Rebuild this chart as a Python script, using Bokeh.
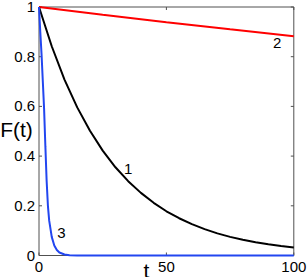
from bokeh.plotting import figure
from bokeh.models import Range1d
from bokeh.core.properties import value
from bokeh.embed import file_html
from bokeh.resources import INLINE

# Curve 1 (black)
t1 = [0, 5, 10, 15, 20, 25, 30, 35, 40, 45, 50, 55, 60, 65, 70, 75, 80, 85, 90, 95, 100]
f1 = [1.0, 0.842, 0.708, 0.596, 0.502, 0.422, 0.355, 0.299, 0.252, 0.212, 0.178,
      0.150, 0.126, 0.106, 0.089, 0.075, 0.063, 0.053, 0.045, 0.038, 0.032]
# Curve 2 (red)
t2 = [0, 25, 50, 75, 100]
f2 = [1.0, 0.969, 0.939, 0.910, 0.882]
# Curve 3 (blue)
t3 = [0, 0.5, 1, 1.5, 2, 2.5, 3, 3.5, 4, 5, 6, 7, 8, 10, 12, 15, 20, 30, 50, 100]
f3 = [1.0, 0.9, 0.81, 0.70, 0.59, 0.44, 0.30, 0.20, 0.14, 0.075, 0.04, 0.022,
      0.012, 0.004, 0.001, 0.0, 0.0, 0.0, 0.0, 0.0]

x_ticks = [0, 50, 100]
x_tick_labels = ["0", "50", "100"]
y_ticks = [0, 0.2, 0.4, 0.6, 0.8, 1]
y_tick_labels = ["0", "0.2", "0.4", "0.6", "0.8", "1"]
curve_labels = ["1", "2", "3"]
label_t = [35, 93.5, 8.8]
label_f = [0.35, 0.855, 0.09]
x_title = "t"
y_title = "F(t)"

# ---- layout (pixels) ----
W, H = 307, 277
LEFT_PX, RIGHT_PX = 38.5, 293.3     # where t=0 and t=100 fall
TOP_PX, BOTTOM_PX = 6.5, 255.0      # where F=1 and F=0 fall
X0, X1, Y0, Y1 = 0, 100, 0, 1
kx = (RIGHT_PX - LEFT_PX) / (X1 - X0)
ky = (BOTTOM_PX - TOP_PX) / (Y1 - Y0)
xr = Range1d(X0 - LEFT_PX / kx, X0 + (W - LEFT_PX) / kx)
yr = Range1d(Y0 - (H - BOTTOM_PX) / ky, Y0 + BOTTOM_PX / ky)

FONT = "Liberation Sans"
FRAME = "#505050"

p = figure(width=W, height=H, output_backend="svg", toolbar_location=None,
           x_range=xr, y_range=yr, x_axis_type=None, y_axis_type=None,
           min_border=0, min_border_left=0, min_border_right=0,
           min_border_top=0, min_border_bottom=0)
p.xgrid.visible = False
p.ygrid.visible = False
p.outline_line_color = None
p.background_fill_color = "white"
p.border_fill_color = "white"

# box
p.line([X0, X1, X1, X0, X0], [Y0, Y0, Y1, Y1, Y0], line_color=FRAME, line_width=1)

# inward ticks on all four sides
tx = 3 / kx
ty = 3 / ky
n_y, n_x = len(y_ticks), len(x_ticks)
p.segment(x0=[X0] * n_y, y0=y_ticks, x1=[X0 + tx] * n_y, y1=y_ticks, line_color=FRAME)
p.segment(x0=[X1 - tx] * n_y, y0=y_ticks, x1=[X1] * n_y, y1=y_ticks, line_color=FRAME)
p.segment(x0=x_ticks, y0=[Y0] * n_x, x1=x_ticks, y1=[Y0 + ty] * n_x, line_color=FRAME)
p.segment(x0=x_ticks, y0=[Y1 - ty] * n_x, x1=x_ticks, y1=[Y1] * n_x, line_color=FRAME)

# tick labels
p.text(x=[X0 - 4 / kx] * n_y, y=y_ticks, text=y_tick_labels, text_font=value(FONT),
       text_font_size="15px", text_align="right", text_baseline="middle", text_color="black")
p.text(x=x_ticks, y=[Y0 - 11.5 / ky] * n_x, text=x_tick_labels, text_font=value(FONT),
       text_font_size="15px", text_align="center", text_baseline="middle", text_color="black")

# curves
p.line(t2, f2, line_color="#ff0000", line_width=2)
p.line(t1, f1, line_color="black", line_width=2)
p.line(t3, f3, line_color="#2246f0", line_width=2)

# curve numbers
p.text(x=label_t, y=label_f, text=curve_labels, text_font=value(FONT), text_font_size="15px",
       text_align="center", text_baseline="middle", text_color="black")

# axis titles
p.text(x=[X0 - 22.5 / kx], y=[Y0 + 126 / ky], text=[y_title], text_font=value(FONT),
       text_font_size="21px", text_align="center", text_baseline="middle", text_color="black")
p.text(x=[X0 + 107.5 / kx], y=[Y0 - 14.5 / ky], text=[x_title], text_font=value(FONT),
       text_font_size="21px", text_align="center", text_baseline="middle", text_color="black")

open("out.html", "w").write(file_html(p, INLINE))
